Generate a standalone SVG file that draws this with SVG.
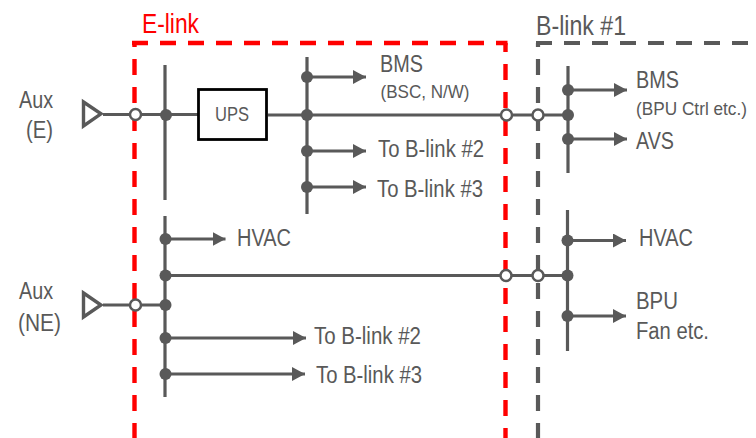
<svg xmlns="http://www.w3.org/2000/svg" width="756" height="438" viewBox="0 0 756 438">
<style>
text{font-family:"Liberation Sans",Arial,sans-serif;fill:#595959;font-size:23px}
.s{font-size:18.500px}
.w{stroke:#595959;stroke-width:3.200;fill:none}
.d{fill:#595959;stroke:none}
.o{fill:#fff;stroke:#595959;stroke-width:2.500}
.tri{fill:#fff;stroke:#595959;stroke-width:3.400}
.rd{stroke:#ff0000;stroke-width:4.400;fill:none;stroke-dasharray:16 12}
.gd{stroke:#595959;stroke-width:4.200;fill:none;stroke-dasharray:16 12}
</style>
<defs>
<marker id="a" markerUnits="userSpaceOnUse" markerWidth="13" markerHeight="14" refX="13" refY="7" orient="auto"><path d="M0 0L13 7L0 14Z" fill="#595959"/></marker>
</defs>
<g id="e-link">
<line class="rd" x1="132" y1="43" x2="507.500" y2="43"/>
<line class="rd" x1="134.500" y1="43" x2="134.500" y2="438" stroke-dashoffset="12"/>
<line class="rd" x1="505.500" y1="43" x2="505.500" y2="438" stroke-dashoffset="7"/>
<text x="142" y="33" style="font-size:28px;fill:#ff0000" textLength="57" lengthAdjust="spacingAndGlyphs">E-link</text>
</g>
<g id="b-link-1">
<line class="gd" x1="536" y1="43" x2="749" y2="43"/>
<line class="gd" x1="538" y1="43" x2="538" y2="438" stroke-dashoffset="12"/>
<text x="536" y="35" style="font-size:28px" textLength="90" lengthAdjust="spacingAndGlyphs">B-link #1</text>
</g>
<g id="connectors">
<path class="w" d="M103 114.500H198M268 115H568M103 305H165M165 275.500H568"/>
<path class="w" d="M165 65V200M165 216V397M307 57V214M568 66V173M567.500 210V351"/>
<line class="w" x1="307" y1="77" x2="366" y2="77" marker-end="url(#a)"/>
<line class="w" x1="307" y1="151" x2="366" y2="151" marker-end="url(#a)"/>
<line class="w" x1="307" y1="187" x2="366" y2="187" marker-end="url(#a)"/>
<line class="w" x1="568" y1="90" x2="627" y2="90" marker-end="url(#a)"/>
<line class="w" x1="568" y1="139" x2="627" y2="139" marker-end="url(#a)"/>
<line class="w" x1="568" y1="240.500" x2="626" y2="240.500" marker-end="url(#a)"/>
<line class="w" x1="568" y1="316" x2="626" y2="316" marker-end="url(#a)"/>
<line class="w" x1="165" y1="239" x2="225.500" y2="239" marker-end="url(#a)"/>
<line class="w" x1="165" y1="338" x2="306" y2="338" marker-end="url(#a)"/>
<line class="w" x1="165" y1="374" x2="305" y2="374" marker-end="url(#a)"/>
</g>
<g id="junctions">
<circle class="d" cx="166" cy="115" r="6"/>
<circle class="d" cx="307" cy="77" r="6"/>
<circle class="d" cx="307" cy="115" r="6"/>
<circle class="d" cx="307" cy="151" r="6"/>
<circle class="d" cx="307" cy="187" r="6"/>
<circle class="d" cx="568" cy="90" r="6"/>
<circle class="d" cx="568" cy="115" r="6"/>
<circle class="d" cx="568" cy="139" r="6"/>
<circle class="d" cx="567.500" cy="240.500" r="6"/>
<circle class="d" cx="567.500" cy="275.500" r="6"/>
<circle class="d" cx="567.500" cy="316" r="6"/>
<circle class="d" cx="165.500" cy="239" r="6"/>
<circle class="d" cx="165.500" cy="275.500" r="6"/>
<circle class="d" cx="165.500" cy="305" r="6"/>
<circle class="d" cx="165.500" cy="338" r="6"/>
<circle class="d" cx="165.500" cy="374" r="6"/>
<circle class="o" cx="135.500" cy="114.500" r="5.500"/>
<circle class="o" cx="135.500" cy="305" r="5.500"/>
<circle class="o" cx="506.500" cy="115" r="5.500"/>
<circle class="o" cx="538" cy="115" r="5.500"/>
<circle class="o" cx="506" cy="275.500" r="5.500"/>
<circle class="o" cx="538" cy="275.500" r="5.500"/>
</g>
<g id="aux-e">
<path class="tri" d="M83.500 102L101 113.800L83.500 126Z"/>
<text x="19" y="108" textLength="34" lengthAdjust="spacingAndGlyphs">Aux</text>
<text x="26" y="138" textLength="27" lengthAdjust="spacingAndGlyphs">(E)</text>
</g>
<g id="aux-ne">
<path class="tri" d="M83.500 293L101 305L83.500 317Z"/>
<text x="19" y="299" textLength="34" lengthAdjust="spacingAndGlyphs">Aux</text>
<text x="18" y="331" textLength="43" lengthAdjust="spacingAndGlyphs">(NE)</text>
</g>
<g id="ups">
<rect x="198.500" y="89.500" width="68" height="50" fill="#fff" stroke="#000" stroke-width="2.800"/>
<text x="215" y="121" style="font-size:20px" textLength="34" lengthAdjust="spacingAndGlyphs">UPS</text>
</g>
<g id="bms-e">
<text x="380" y="72" textLength="43" lengthAdjust="spacingAndGlyphs">BMS</text>
<text class="s" x="380.500" y="98" textLength="89" lengthAdjust="spacingAndGlyphs">(BSC, N/W)</text>
</g>
<g id="to-b2-upper"><text x="378" y="157" textLength="106" lengthAdjust="spacingAndGlyphs">To B-link #2</text></g>
<g id="to-b3-upper"><text x="377" y="197" textLength="106" lengthAdjust="spacingAndGlyphs">To B-link #3</text></g>
<g id="bms-b">
<text x="636" y="88" textLength="43" lengthAdjust="spacingAndGlyphs">BMS</text>
<text class="s" x="636" y="115" textLength="111" lengthAdjust="spacingAndGlyphs">(BPU Ctrl etc.)</text>
</g>
<g id="avs"><text x="636" y="149" textLength="38" lengthAdjust="spacingAndGlyphs">AVS</text></g>
<g id="hvac-e"><text x="237" y="245.500" textLength="54" lengthAdjust="spacingAndGlyphs">HVAC</text></g>
<g id="hvac-b"><text x="639" y="245.500" textLength="54" lengthAdjust="spacingAndGlyphs">HVAC</text></g>
<g id="to-b2-lower"><text x="314" y="344" textLength="107" lengthAdjust="spacingAndGlyphs">To B-link #2</text></g>
<g id="to-b3-lower"><text x="316" y="382.500" textLength="106" lengthAdjust="spacingAndGlyphs">To B-link #3</text></g>
<g id="bpu">
<text x="636" y="309" textLength="42" lengthAdjust="spacingAndGlyphs">BPU</text>
<text x="636" y="339" textLength="73" lengthAdjust="spacingAndGlyphs">Fan etc.</text>
</g>
</svg>
